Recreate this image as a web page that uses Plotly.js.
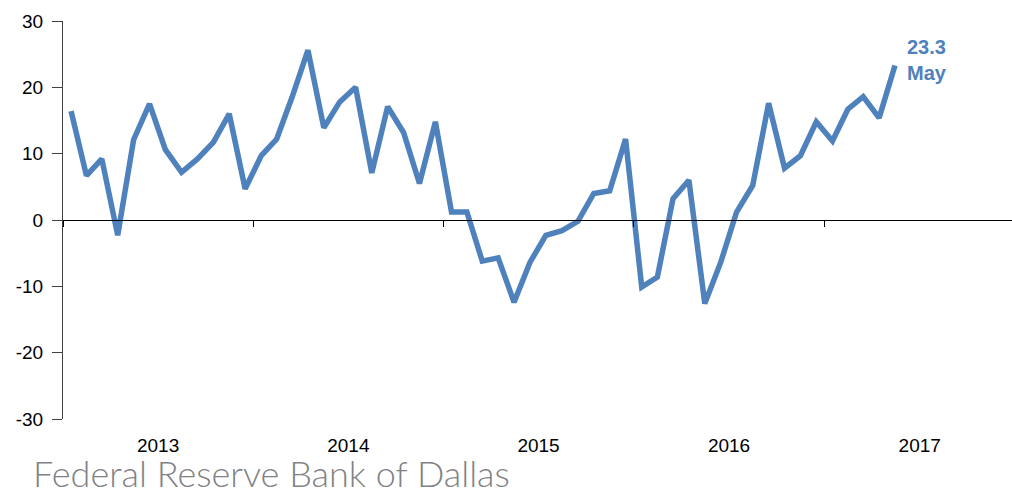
<!DOCTYPE html>
<html>
<head>
<meta charset="utf-8">
<script src="https://cdn.plot.ly/plotly-3.0.1.min.js"></script>
<style>
  html, body { margin: 0; padding: 0; background: #ffffff; }
  #chart { width: 1012px; height: 493px; }
</style>
</head>
<body>
<div id="chart"></div>
<script>
// Monthly index, Jan 2013 - May 2017
const startMonth = '2013-01';
const values = [
  16.4, 6.7, 9.2, -2.3, 12.1, 17.5, 10.6, 7.2, 9.2, 11.7, 16.0, 4.7,
  9.7, 12.2, 18.5, 25.6, 13.9, 17.8, 20.0, 7.1, 17.1, 13.2, 5.5, 14.8,
  1.2, 1.2, -6.2, -5.7, -12.4, -6.4, -2.3, -1.6, -0.2, 4.0, 4.4, 12.2,
  -10.1, -8.6, 3.2, 6.0, -12.6, -6.4, 1.2, 5.2, 17.6, 7.8, 9.7, 14.8,
  11.9, 16.7, 18.6, 15.4, 23.3
];
const lastLabel = ['23.3', 'May'];
const yTicks = [-30, -20, -10, 0, 10, 20, 30];
const yTickText = yTicks.map(v => String(v));

// build month strings from the start month
const months = values.map((v, i) => {
  const y0 = parseInt(startMonth.slice(0, 4), 10);
  const m0 = parseInt(startMonth.slice(5, 7), 10) - 1;
  const t = y0 * 12 + m0 + i;
  const yy = Math.floor(t / 12), mm = (t % 12) + 1;
  return yy + '-' + String(mm).padStart(2, '0') + '-01';
});

const blue = '#4F81BD';
const xRange = ['2013-01-01', '2017-12-27'];

const traces = [
  {
    type: 'scatter', mode: 'lines',
    x: months, y: values,
    xperiod: 'M1', xperiodalignment: 'middle',
    line: { color: blue, width: 5.5 },
    hoverinfo: 'skip', showlegend: false,
    xaxis: 'x', yaxis: 'y'
  },
  {
    type: 'scatter', mode: 'lines',
    x: [], y: [],
    hoverinfo: 'skip', showlegend: false,
    xaxis: 'x2', yaxis: 'y'
  }
];

const layout = {
  width: 1012, height: 493,
  margin: { l: 63, r: 0, t: 21, b: 74 },
  paper_bgcolor: '#ffffff', plot_bgcolor: '#ffffff',
  font: { family: 'Liberation Sans, Arial, sans-serif', size: 19, color: '#000000' },
  showlegend: false,
  xaxis: {
    type: 'date', range: xRange,
    tick0: '2013-01-01', dtick: 'M12', ticklabelmode: 'period', tickformat: '%Y',
    showgrid: false, zeroline: false, showline: false, ticks: '',
    ticklabelstandoff: 13,
    tickfont: { size: 19, color: '#000000' }
  },
  xaxis2: {
    type: 'date', range: xRange, overlaying: 'x', anchor: 'free', position: 0.5,
    tick0: '2013-01-01', dtick: 'M12',
    showgrid: false, zeroline: false, showline: true, linecolor: '#000000', linewidth: 1,
    ticks: 'outside', ticklen: 6, tickcolor: '#000000', tickwidth: 1,
    showticklabels: false
  },
  yaxis: {
    range: [-30, 30], tickvals: yTicks, ticktext: yTickText,
    showgrid: false, zeroline: false, showline: true, linecolor: '#404040', linewidth: 1,
    ticks: 'outside', ticklen: 10, tickcolor: '#404040',
    ticklabelstandoff: 5,
    tickfont: { size: 19, color: '#000000' }
  },
  annotations: [
    {
      x: months[months.length - 1], y: values[values.length - 1],
      xref: 'x', yref: 'y',
      text: '<b>' + lastLabel.join('<br>') + '</b>',
      showarrow: false, xanchor: 'center', yanchor: 'middle',
      xshift: 40, yshift: 5,
      font: { family: 'Liberation Sans, Arial, sans-serif', size: 20, color: blue }
    },
    {
      x: 0, y: 0, xref: 'paper', yref: 'paper',
      text: 'Federal Reserve Bank of Dallas',
      showarrow: false, xanchor: 'left', yanchor: 'middle',
      xshift: -32, yshift: -54,
      font: { family: 'Lato, Open Sans, sans-serif', size: 36, color: '#808285', weight: 300 }
    }
  ]
};

Plotly.newPlot('chart', traces, layout, { staticPlot: true, displayModeBar: false });
</script>
</body>
</html>
